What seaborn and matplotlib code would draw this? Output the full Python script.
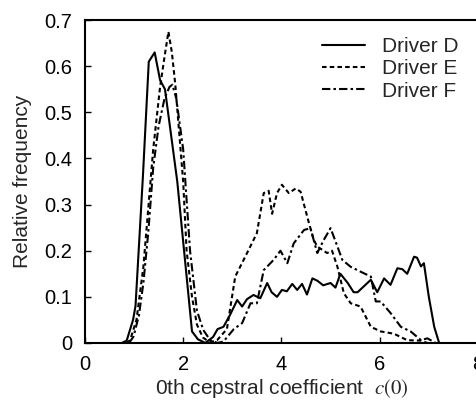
import numpy as np
import pandas as pd
import matplotlib
matplotlib.use("Agg")
import matplotlib.pyplot as plt
import seaborn as sns

drivers = ["Driver D", "Driver E", "Driver F"]

d_x = [0.75, 0.85, 0.98, 1.03, 1.18, 1.30, 1.42, 1.53, 1.63, 1.88, 2.18, 2.30, 2.45, 2.61, 2.70, 2.82,
       2.95, 3.10, 3.20, 3.30, 3.43, 3.57, 3.71, 3.80, 3.91, 4.01, 4.11, 4.22, 4.32, 4.42, 4.52, 4.63,
       4.73, 4.85, 5.00, 5.10, 5.20, 5.35, 5.47, 5.55, 5.70, 5.82, 5.95, 6.09, 6.22, 6.36, 6.46, 6.56,
       6.70, 6.76, 6.84, 6.90, 7.00, 7.11, 7.21]
d_y = [0.0, 0.005, 0.05, 0.08, 0.36, 0.61, 0.63, 0.57, 0.55, 0.35, 0.025, 0.008, 0.0, 0.013, 0.03, 0.035,
       0.06, 0.093, 0.079, 0.095, 0.104, 0.097, 0.13, 0.11, 0.10, 0.115, 0.112, 0.128, 0.115, 0.128, 0.105, 0.14,
       0.135, 0.125, 0.13, 0.12, 0.15, 0.13, 0.11, 0.11, 0.125, 0.137, 0.11, 0.14, 0.126, 0.162, 0.16, 0.15,
       0.187, 0.185, 0.166, 0.173, 0.10, 0.035, 0.0]

e_x = [0.85, 0.92, 1.05, 1.19, 1.39, 1.53, 1.62, 1.70, 1.77, 1.84, 2.00, 2.07, 2.18, 2.28, 2.40, 2.48,
       2.60, 2.69, 2.89, 3.06, 3.23, 3.37, 3.50, 3.64, 3.74, 3.81, 3.91, 4.01, 4.15, 4.29, 4.39, 4.56,
       4.66, 4.73, 4.93, 5.03, 5.14, 5.27, 5.41, 5.61, 5.82, 6.02, 6.29, 6.56, 6.84, 6.97]
e_y = [0.0, 0.006, 0.05, 0.165, 0.42, 0.555, 0.62, 0.675, 0.63, 0.56, 0.35, 0.20, 0.10, 0.04, 0.012, 0.006,
       0.003, 0.006, 0.03, 0.144, 0.18, 0.21, 0.238, 0.325, 0.33, 0.28, 0.325, 0.343, 0.325, 0.335, 0.328, 0.26,
       0.223, 0.209, 0.195, 0.20, 0.165, 0.108, 0.086, 0.079, 0.035, 0.025, 0.02, 0.006, 0.005, 0.0]

f_x = [0.90, 0.99, 1.10, 1.19, 1.29, 1.39, 1.50, 1.62, 1.72, 1.78, 1.86, 2.00, 2.14, 2.28, 2.41, 2.55,
       2.70, 2.82, 3.03, 3.20, 3.37, 3.50, 3.64, 3.84, 3.98, 4.12, 4.25, 4.46, 4.59, 4.73, 4.86, 5.00,
       5.14, 5.24, 5.41, 5.68, 5.82, 5.92, 6.02, 6.22, 6.43, 6.63, 6.84, 6.97, 7.14]
f_y = [0.0, 0.014, 0.06, 0.13, 0.24, 0.38, 0.47, 0.53, 0.555, 0.56, 0.53, 0.42, 0.20, 0.07, 0.028, 0.006,
       0.0, 0.003, 0.03, 0.043, 0.086, 0.086, 0.158, 0.18, 0.20, 0.173, 0.216, 0.245, 0.249, 0.195, 0.223, 0.249,
       0.209, 0.18, 0.165, 0.151, 0.144, 0.09, 0.09, 0.065, 0.035, 0.025, 0.006, 0.01, 0.0]

x_ticks = [0, 2, 4, 6, 8]
y_ticks = [0, 0.1, 0.2, 0.3, 0.4, 0.5, 0.6, 0.7]

df = pd.concat([
    pd.DataFrame({"c0": d_x, "freq": d_y, "driver": drivers[0]}),
    pd.DataFrame({"c0": e_x, "freq": e_y, "driver": drivers[1]}),
    pd.DataFrame({"c0": f_x, "freq": f_y, "driver": drivers[2]}),
], ignore_index=True)

sns.set_style("white")
plt.rcParams["font.family"] = ["Liberation Sans", "DejaVu Sans"]
plt.rcParams["mathtext.fontset"] = "stix"

fig = plt.figure(figsize=(4.77, 4.03), dpi=100)
ax = fig.add_axes([0.178, 0.149, 0.824, 0.801])

sns.lineplot(data=df, x="c0", y="freq", hue="driver", style="driver",
             palette=["black"] * 3,
             dashes={"Driver D": "", "Driver E": (2.2, 1.5), "Driver F": (4, 1.5, 1.2, 1.5)},
             estimator=None, sort=False, linewidth=1.5, ax=ax)

ax.set_xlim(0, 8)
ax.set_ylim(0, 0.7)
ax.set_xticks(x_ticks)
ax.set_xticklabels([str(t) for t in x_ticks])
ax.set_yticks(y_ticks)
ax.set_yticklabels(["0"] + [f"{t:.1f}" for t in y_ticks[1:]])
ax.tick_params(direction="in", length=4, width=1, labelsize=14.5, colors="black",
               bottom=True, left=True)
ax.tick_params(axis="y", pad=9)
ax.tick_params(axis="x", pad=9)
for s in ["left", "bottom", "top"]:
    ax.spines[s].set_color("black")
    ax.spines[s].set_linewidth(1.5)
ax.spines["right"].set_visible(False)

ax.set_xlabel("0th cepstral coefficient  $c(0)$", fontsize=15, labelpad=2)
ax.set_ylabel("Relative frequency", fontsize=15, labelpad=9)

leg = ax.legend(loc="upper right", bbox_to_anchor=(0.998, 1.005), frameon=False, fontsize=15,
                handlelength=2.1, labelspacing=0.15, handletextpad=0.8)
leg.set_title(None)

fig.savefig("out.png", dpi=100)
